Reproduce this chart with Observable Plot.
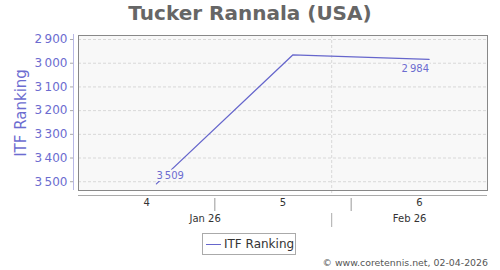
<!DOCTYPE html>
<html>
<head>
<meta charset="utf-8">
<script src="https://cdn.jsdelivr.net/npm/d3@7"></script>
<script src="https://cdn.jsdelivr.net/npm/@observablehq/plot@0.6"></script>
<style>
  html, body { margin: 0; padding: 0; background: #fff; }
  #wrap { position: relative; width: 500px; height: 270px; overflow: hidden; font-family: "DejaVu Sans", sans-serif; }
  #title { position: absolute; left: 0; top: 1px; width: 500px; text-align: center; font-weight: bold; font-size: 20px; color: #666; line-height: 24px; }
  #chart { position: absolute; left: 0; top: 28px; }
  #legend { position: absolute; left: 202px; top: 233px; width: 94px; height: 22px; border: 1px solid #aaa; box-sizing: border-box; font-size: 12px; color: #333; }
  #legend .sw { position: absolute; left: 3px; top: 10px; width: 15px; height: 0; border-top: 1.5px solid #6666cc; }
  #legend .lb { position: absolute; left: 21px; top: 3px; line-height: 14px; }
  #caption { position: absolute; right: 12px; top: 257px; font-size: 9.4px; color: #555; }
</style>
</head>
<body>
<div id="wrap">
  <div id="title"></div>
  <div id="chart"></div>
  <div id="legend"><div class="sw"></div><div class="lb"></div></div>
  <div id="caption"></div>
</div>
<script>
const titleText = "Tucker Rannala (USA)";
const seriesName = "ITF Ranking";
const captionText = "\u00a9 www.coretennis.net, 02-04-2026";

// data
const dates = ["2026-01-23", "2026-01-30", "2026-02-06"];
const ranks = [3509, 2965, 2984];
const labelled = [true, false, true];

// axes
const yTicks = [2900, 3000, 3100, 3200, 3300, 3400, 3500];
const yDomain = [2883, 3537];
const xDomain = ["2026-01-19", "2026-02-09"];
const weekStarts = ["2026-01-19", "2026-01-26", "2026-02-02"];
const weekLabels = ["4", "5", "6"];
const weekBoundaries = ["2026-01-26", "2026-02-02"];
const monthLabels = ["Jan 26", "Feb 26"];
const monthCenters = ["2026-01-25T12:00", "2026-02-05"];
const monthBoundaries = ["2026-02-01"];

const color = "#6666cc";
const tickColor = "#6c6cd0";
const d = s => new Date(s + (s.includes("T") ? "Z" : "T00:00Z"));
const fmt = d3.formatLocale({decimal: ".", thousands: "\u2009", grouping: [3], currency: ["", ""]}).format(",");

const data = dates.map((s, i) => ({date: d(s), rank: ranks[i], label: labelled[i]}));
const firstLast = data.filter(r => r.label);
const weeks = weekStarts.map((s, i) => ({mid: new Date(d(s).getTime() + 3.5 * 864e5), label: weekLabels[i]}));
const months = monthLabels.map((l, i) => ({mid: d(monthCenters[i]), label: l}));

document.getElementById("title").textContent = titleText;
document.querySelector("#legend .lb").textContent = seriesName;
document.getElementById("caption").textContent = captionText;

const chart = Plot.plot({
  width: 500,
  height: 200,
  marginTop: 7,
  marginRight: 13,
  marginBottom: 38,
  marginLeft: 78,
  style: {fontFamily: "DejaVu Sans, sans-serif", background: "transparent", overflow: "visible"},
  x: {type: "utc", domain: xDomain.map(d), axis: null},
  y: {domain: yDomain, reverse: true, axis: null},
  marks: [
    Plot.frame({fill: "#f8f8f8", stroke: null}),
    Plot.ruleY(yTicks, {stroke: "#d8d8d8", strokeDasharray: "3,2"}),
    Plot.ruleX(monthBoundaries.map(d), {stroke: "#d8d8d8", strokeDasharray: "3,2", insetBottom: -6}),
    Plot.frame({stroke: "#888", strokeWidth: 1}),
    Plot.ruleY([yDomain[1]], {dy: 5, stroke: "#aaa", strokeWidth: 1.2}),
    Plot.ruleX([d(xDomain[0])], {dx: -5, stroke: "#b8b8e6", insetTop: -1}),
    Plot.axisY(yTicks, {anchor: "left", dx: -5, tickSize: 3, tickPadding: 3, stroke: "#aaa", fill: tickColor, fontSize: 12, tickFormat: fmt, label: null}),
    Plot.text([seriesName], {frameAnchor: "left", textAnchor: "middle", rotate: -90, dx: -57, fill: tickColor, fontSize: 15}),
    Plot.line(data, {x: "date", y: "rank", stroke: color, strokeWidth: 1.3}),
    Plot.text(firstLast.slice(0, 1), {x: "date", y: "rank", text: r => fmt(r.rank), dy: -8, textAnchor: "start", fill: tickColor, fontSize: 10, stroke: "#f8f8f8", strokeWidth: 4}),
    Plot.text(firstLast.slice(1), {x: "date", y: "rank", text: r => fmt(r.rank), dy: 9, textAnchor: "end", fill: tickColor, fontSize: 10, stroke: "#f8f8f8", strokeWidth: 4}),
    Plot.text(weeks, {x: "mid", text: "label", frameAnchor: "bottom", dy: 15, fill: "#333", fontSize: 10}),
    Plot.ruleX(weekBoundaries.map(d), {insetTop: 163, insetBottom: -21, stroke: "#999"}),
    Plot.text(months, {x: "mid", text: "label", frameAnchor: "bottom", dy: 31, fill: "#333", fontSize: 10}),
    Plot.ruleX(monthBoundaries.map(d), {insetTop: 178, insetBottom: -37, stroke: "#aaa"})
  ]
});
document.getElementById("chart").appendChild(chart);
</script>
</body>
</html>
